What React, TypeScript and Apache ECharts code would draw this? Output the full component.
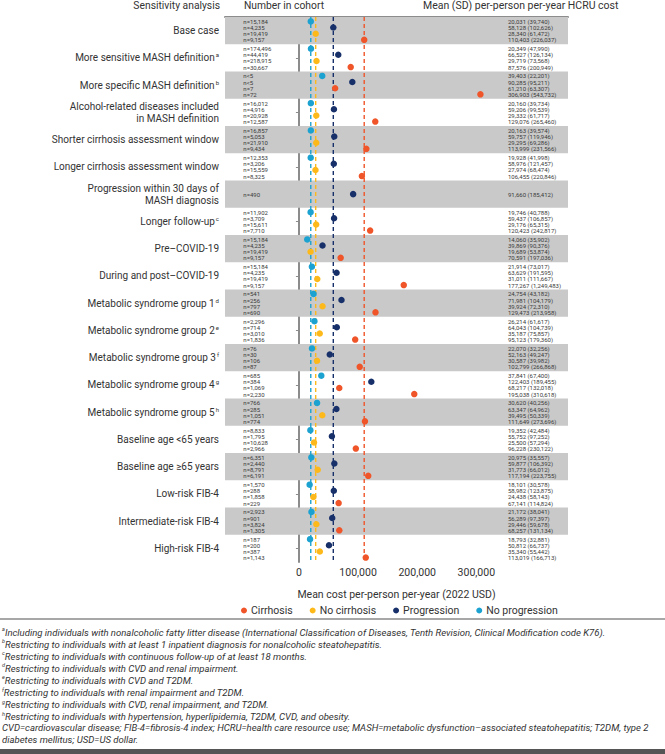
import React, { useEffect, useRef } from 'react';
import * as echarts from 'echarts';

const FONT = 'Roboto, "Noto Sans", sans-serif';

// ---- categories ----
const groupLabels = [
  'Base case',
  'More sensitive MASH definition',
  'More specific MASH definition',
  'Alcohol-related diseases included\nin MASH definition',
  'Shorter cirrhosis assessment window',
  'Longer cirrhosis assessment window',
  'Progression within 30 days of\nMASH diagnosis',
  'Longer follow-up',
  'Pre–COVID-19',
  'During and post–COVID-19',
  'Metabolic syndrome group 1',
  'Metabolic syndrome group 2',
  'Metabolic syndrome group 3',
  'Metabolic syndrome group 4',
  'Metabolic syndrome group 5',
  'Baseline age <65 years',
  'Baseline age ≥65 years',
  'Low-risk FIB-4',
  'Intermediate-risk FIB-4',
  'High-risk FIB-4',
];
const groupNotes = ['', 'a', 'b', '', '', '', '', 'c', '', '', 'd', 'e', 'f', 'g', 'h', '', '', '', '', ''];

// ---- cohort sizes ----
const noProgN: (number | string | null)[] = [15184, 174496, '<5', 16012, 16857, 12353, null, 11902, 15184, 15184, 541, 2296, 76, 685, 766, 8833, 6351, 1570, 2923, 187];
const progN: (number | string | null)[] = [4235, 44419, '<5', 4916, 5053, 3206, 490, 3709, 4235, 4235, 256, 714, 30, 384, 285, 1795, 2440, 288, 901, 200];
const noCirrN: (number | string | null)[] = [19419, 218915, 7, 20928, 21910, 15559, null, 15611, 19419, 19419, 797, 3010, 106, 1069, 1051, 10628, 8791, 1858, 3824, 387];
const cirrN: (number | string | null)[] = [9157, 30667, 72, 12587, 9434, 8325, null, 7710, 9157, 9157, 690, 1836, 87, 2230, 774, 2966, 6191, 229, 1305, 1143];

// ---- mean (SD) cost ----
const noProgMean = [20031, 20349, 39403, 20160, 20163, 19928, null, 19746, 14060, 21914, 24754, 26214, 22070, 37841, 30620, 19352, 20975, 18101, 21172, 18793];
const noProgSD = [39740, 47990, 22201, 39734, 39574, 41998, null, 40788, 35902, 73017, 43182, 61617, 32256, 67400, 40256, 42484, 35557, 30578, 38041, 32881];
const progMean = [58128, 66527, 90285, 59206, 59757, 58976, 91660, 59437, 39869, 63629, 71981, 64043, 52163, 122403, 63347, 55752, 59877, 58982, 56289, 50812];
const progSD = [102626, 126134, 95211, 99539, 119946, 121457, 185412, 106857, 90376, 191595, 104179, 104739, 49247, 189455, 64962, 97252, 106392, 123875, 97397, 66737];
const noCirrMean = [28340, 29719, 61210, 29332, 29295, 27974, null, 29176, 19689, 31011, 39924, 35187, 30587, 68217, 39495, 25500, 31773, 24438, 29446, 35340];
const noCirrSD = [61472, 73568, 63307, 61717, 69286, 68474, null, 65315, 53874, 111667, 72310, 75857, 39982, 132018, 50339, 57294, 66012, 58143, 59678, 55442];
const cirrMean = [110403, 87576, 306903, 129076, 113999, 106455, null, 120423, 70591, 177267, 129473, 95123, 102799, 195038, 111649, 96228, 117194, 67141, 68257, 113019];
const cirrSD = [226037, 200949, 543732, 265460, 231566, 220846, null, 242817, 197036, 1249483, 213958, 179360, 266868, 310618, 273696, 230122, 223755, 114824, 131134, 166713];

// ---- axis ticks ----
const xTicks = [0, 100000, 200000, 300000];

// ---- footnotes ----
const footnoteLetters = ['a', 'b', 'c', 'd', 'e', 'f', 'g', 'h', '', ''];
const footnoteTexts = [
  'Including individuals with nonalcoholic fatty litter disease (International Classification of Diseases, Tenth Revision, Clinical Modification code K76).',
  'Restricting to individuals with at least 1 inpatient diagnosis for nonalcoholic steatohepatitis.',
  'Restricting to individuals with continuous follow-up of at least 18 months.',
  'Restricting to individuals with CVD and renal impairment.',
  'Restricting to individuals with CVD and T2DM.',
  'Restricting to individuals with renal impairment and T2DM.',
  'Restricting to individuals with CVD, renal impairment, and T2DM.',
  'Restricting to individuals with hypertension, hyperlipidemia, T2DM, CVD, and obesity.',
  'CVD=cardiovascular disease; FIB-4=fibrosis-4 index; HCRU=health care resource use; MASH=metabolic dysfunction–associated steatohepatitis; T2DM, type 2',
  'diabetes mellitus; USD=US dollar.',
];

// groups in which the figure draws the no-cirrhosis marker in the cirrhosis colour
const noCirrDrawnRed = [2, 13];

const COLORS = {
  noProg: '#1ca2d0',
  prog: '#17306a',
  noCirr: '#fdb91a',
  cirr: '#ef5529',
};

const outcomes = [
  { key: 'noProg', name: 'No progression', n: noProgN, mean: noProgMean, sd: noProgSD, color: COLORS.noProg },
  { key: 'prog', name: 'Progression', n: progN, mean: progMean, sd: progSD, color: COLORS.prog },
  { key: 'noCirr', name: 'No cirrhosis', n: noCirrN, mean: noCirrMean, sd: noCirrSD, color: COLORS.noCirr },
  { key: 'cirr', name: 'Cirrhosis', n: cirrN, mean: cirrMean, sd: cirrSD, color: COLORS.cirr },
];

const X_MIN = -125000;
const X_MAX = 455000;
const N_COL_X = -94000;
const MEAN_COL_X = 353500;
const ROW_STEP = 0.225;

const fmt = (v: number) => String(v).replace(/\B(?=(\d{3})+(?!\d))/g, ',');

function rowY(g: number, r: number) {
  const present = outcomes.filter((o) => o.n[g] !== null).length;
  if (present <= 1) return g + 0.5;
  return g + 0.5 + (r - 1.5) * ROW_STEP;
}

function buildOption() {
  const textRows: { x: number; y: number; text: string }[] = [];
  groupLabels.forEach((_, g) => {
    outcomes.forEach((o, r) => {
      const n = o.n[g];
      if (n === null) return;
      const y = rowY(g, r);
      textRows.push({ x: N_COL_X, y, text: typeof n === 'number' ? 'n=' + fmt(n) : 'n' + n });
      const m = o.mean[g];
      const s = o.sd[g];
      if (m !== null && s !== null) {
        textRows.push({ x: MEAN_COL_X, y, text: fmt(m) + ' (' + fmt(s) + ')' });
      }
    });
  });

  const bandGroups = groupLabels.map((_, g) => g).filter((g) => g % 2 === 0);

  const dotSeries = outcomes.map((o, r) => ({
    name: o.name,
    type: 'scatter',
    xAxisIndex: 0,
    yAxisIndex: 1,
    symbol: 'circle',
    symbolSize: 6.5,
    z: 4,
    itemStyle: { color: o.color, opacity: 1 },
    data: groupLabels
      .map((_, g) => {
        const m = o.mean[g];
        if (m === null) return null;
        const item: any = { value: [m, rowY(g, r)] };
        if (o.key === 'noCirr' && noCirrDrawnRed.includes(g)) item.itemStyle = { color: COLORS.cirr };
        return item;
      })
      .filter((d) => d !== null),
  }));

  const series: any[] = [
    {
      name: 'bands',
      type: 'custom',
      xAxisIndex: 0,
      yAxisIndex: 1,
      z: 1,
      silent: true,
      data: bandGroups.map((g) => [0, g]),
      renderItem: (params: any, api: any) => {
        const g = api.value(1);
        const cs = params.coordSys;
        const y0 = api.coord([0, g])[1];
        const y1 = api.coord([0, g + 1])[1];
        return {
          type: 'rect',
          shape: { x: cs.x, y: Math.min(y0, y1), width: cs.width, height: Math.abs(y1 - y0) },
          style: { fill: '#c9c9c9' },
        };
      },
    },
    {
      name: 'refLines',
      type: 'custom',
      xAxisIndex: 0,
      yAxisIndex: 1,
      z: 2,
      silent: true,
      data: outcomes.map((o) => [o.mean[0], 0]),
      renderItem: (params: any, api: any) => {
        const cs = params.coordSys;
        const x = api.coord([api.value(0), 0])[0];
        return {
          type: 'line',
          shape: { x1: x, y1: cs.y, x2: x, y2: cs.y + cs.height },
          style: { stroke: outcomes[params.dataIndex].color, lineWidth: 1.4, lineDash: [4, 3] },
        };
      },
    },
    ...dotSeries,
    {
      name: 'texts',
      type: 'custom',
      xAxisIndex: 0,
      yAxisIndex: 1,
      z: 5,
      silent: true,
      data: textRows.map((t) => [t.x, t.y]),
      renderItem: (params: any, api: any) => {
        const p = api.coord([api.value(0), api.value(1)]);
        return {
          type: 'text',
          x: p[0],
          y: p[1],
          style: {
            text: textRows[params.dataIndex].text,
            fontSize: 6,
            fontFamily: FONT,
            fill: '#3a3a3a',
            align: 'left',
            verticalAlign: 'middle',
          },
        };
      },
    },
  ];

  const graphic: any[] = [
    {
      type: 'text',
      right: 665 - 220,
      top: 0,
      style: { text: 'Sensitivity analysis', fontSize: 10.3, fontFamily: FONT, fill: '#333' },
    },
    {
      type: 'text',
      left: 244,
      top: 0,
      style: { text: 'Number in cohort', fontSize: 10.3, fontFamily: FONT, fill: '#333' },
    },
    {
      type: 'text',
      left: 423,
      top: 0,
      style: { text: 'Mean (SD) per-person per-year HCRU cost', fontSize: 10.5, fontFamily: FONT, fill: '#333' },
    },
    {
      type: 'line',
      shape: { x1: 0, y1: 619, x2: 665, y2: 619 },
      style: { stroke: '#8a8a8a', lineWidth: 1.5 },
    },
    {
      type: 'rect',
      shape: { x: 0, y: 749, width: 665, height: 5 },
      style: { fill: '#555' },
    },
  ];
  footnoteTexts.forEach((t, i) => {
    const letter = footnoteLetters[i];
    graphic.push({
      type: 'text',
      left: 2,
      top: 626 + i * 12.1,
      style: {
        text: (letter ? '{s|' + letter + '}' : '') + '{m|' + t + '}',
        rich: {
          s: { fontSize: 5.5, fontFamily: FONT, fontStyle: 'italic', fill: '#333', verticalAlign: 'top', lineHeight: 12 },
          m: { fontSize: 9.55, fontFamily: FONT, fontStyle: 'italic', fill: '#333', lineHeight: 12 },
        },
      },
    });
  });

  return {
    animation: false,
    backgroundColor: '#fff',
    textStyle: { fontFamily: FONT },
    grid: { left: 225, right: 97, top: 17, bottom: 192, containLabel: false },
    legend: {
      data: ['Cirrhosis', 'No cirrhosis', 'Progression', 'No progression'],
      left: 236,
      top: 600,
      icon: 'circle',
      itemWidth: 6,
      itemHeight: 6,
      itemGap: 17,
      textStyle: { fontSize: 10.5, fontFamily: FONT, color: '#333', padding: [0, 0, 0, -1] },
    },
    xAxis: {
      type: 'value',
      min: X_MIN,
      max: X_MAX,
      name: 'Mean cost per-person per-year (2022 USD)',
      nameLocation: 'middle',
      nameGap: 27,
      nameTextStyle: { fontSize: 10.5, color: '#333', fontFamily: FONT },
      splitLine: { show: false },
      axisLine: { show: true, lineStyle: { color: '#8c8c8c', width: 2 } },
      axisTick: { show: true, customValues: xTicks, length: 4, lineStyle: { color: '#8c8c8c', width: 1.2 } },
      axisLabel: {
        customValues: xTicks,
        fontSize: 10.5,
        color: '#333',
        margin: 5,
        formatter: (v: number) => fmt(v),
      },
    },
    yAxis: [
      {
        type: 'category',
        inverse: true,
        data: groupLabels,
        boundaryGap: true,
        axisLine: { show: true, lineStyle: { color: '#8c8c8c', width: 2 } },
        axisTick: { show: true, alignWithLabel: true, length: 3, lineStyle: { color: '#8c8c8c' } },
        splitLine: { show: false },
        axisLabel: {
          fontSize: 10,
          color: '#333',
          lineHeight: 12,
          margin: 6,
          align: 'right',
          formatter: (v: string, i: number) => v + (groupNotes[i] ? '{sup|' + groupNotes[i] + '}' : ''),
          rich: {
            sup: { fontSize: 6, color: '#333', verticalAlign: 'top', lineHeight: 12, padding: [0, 0, 0, 1] },
          },
        },
      },
      {
        type: 'value',
        show: false,
        inverse: true,
        min: 0,
        max: groupLabels.length,
        splitLine: { show: false },
      },
    ],
    series,
    graphic,
  };
}

export default function App() {
  const ref = useRef<HTMLDivElement>(null);
  useEffect(() => {
    if (!ref.current) return;
    const chart = echarts.init(ref.current, null, { renderer: 'svg' });
    chart.setOption(buildOption() as any);
    return () => chart.dispose();
  }, []);
  return (
    <div
      ref={ref}
      style={{ position: 'absolute', left: 0, top: 0, width: 665, height: 754, background: '#fff' }}
    />
  );
}
